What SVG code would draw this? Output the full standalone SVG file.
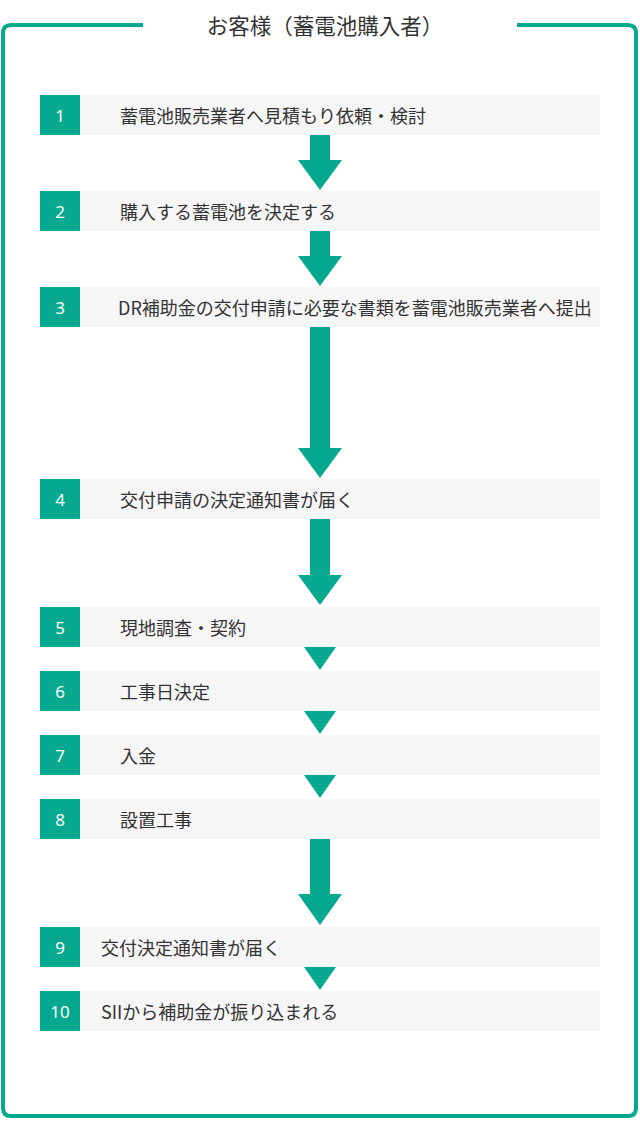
<svg xmlns="http://www.w3.org/2000/svg" width="640" height="1123" viewBox="0 0 640 1123">
<style>
.frame{fill:none;stroke:#06a98f;stroke-width:4;stroke-linecap:butt}
.num{fill:#06a98f}
.bar{fill:#f6f6f6}
.nt{font-family:"Noto Sans","Noto Sans CJK JP",sans-serif;font-size:17px;fill:#ffffff;text-anchor:middle;dominant-baseline:central}
.lb{font-family:"Noto Sans CJK JP","Noto Sans",sans-serif;font-size:18px;fill:#333333;dominant-baseline:central}
.title{font-family:"Noto Sans CJK JP","Noto Sans",sans-serif;font-size:21.5px;fill:#333333;text-anchor:middle;dominant-baseline:central}
.arr{fill:#06a98f}
</style>
<rect width="640" height="1123" fill="#ffffff"/>
<g id="frame">
<path class="frame" d="M143,25 H11 Q3,25 3,33 V1108 Q3,1116 11,1116 H628 Q636,1116 636,1108 V33 Q636,25 628,25 H517"/>
<text class="title" x="325" y="24">お客様（蓄電池購入者）</text>
</g>
<g id="connectors">
<polygon class="arr" points="310,135 330,135 330,160 342,160 320,190 298,160 310,160"/>
<polygon class="arr" points="310,231 330,231 330,256 342,256 320,286 298,256 310,256"/>
<polygon class="arr" points="310,327 330,327 330,448 342,448 320,478 298,448 310,448"/>
<polygon class="arr" points="310,519 330,519 330,575 342,575 320,605 298,575 310,575"/>
<polygon class="arr" points="304,647 336,647 320,670"/>
<polygon class="arr" points="304,711 336,711 320,734"/>
<polygon class="arr" points="304,775 336,775 320,798"/>
<polygon class="arr" points="310,839 330,839 330,894 342,894 320,925 298,894 310,894"/>
<polygon class="arr" points="304,967 336,967 320,990"/>
</g>
<g id="step1"><rect class="bar" x="80" y="95" width="520" height="40"/><rect class="num" x="40" y="95" width="40" height="40"/><text class="nt" x="60" y="115">1</text><text class="lb" x="120" y="115">蓄電池販売業者へ見積もり依頼・検討</text></g>
<g id="step2"><rect class="bar" x="80" y="191" width="520" height="40"/><rect class="num" x="40" y="191" width="40" height="40"/><text class="nt" x="60" y="211">2</text><text class="lb" x="120" y="211">購入する蓄電池を決定する</text></g>
<g id="step3"><rect class="bar" x="80" y="287" width="520" height="40"/><rect class="num" x="40" y="287" width="40" height="40"/><text class="nt" x="60" y="307">3</text><text class="lb" x="118" y="307">DR補助金の交付申請に必要な書類を蓄電池販売業者へ提出</text></g>
<g id="step4"><rect class="bar" x="80" y="479" width="520" height="40"/><rect class="num" x="40" y="479" width="40" height="40"/><text class="nt" x="60" y="499">4</text><text class="lb" x="120" y="499">交付申請の決定通知書が届く</text></g>
<g id="step5"><rect class="bar" x="80" y="607" width="520" height="40"/><rect class="num" x="40" y="607" width="40" height="40"/><text class="nt" x="60" y="627">5</text><text class="lb" x="120" y="627">現地調査・契約</text></g>
<g id="step6"><rect class="bar" x="80" y="671" width="520" height="40"/><rect class="num" x="40" y="671" width="40" height="40"/><text class="nt" x="60" y="691">6</text><text class="lb" x="120" y="691">工事日決定</text></g>
<g id="step7"><rect class="bar" x="80" y="735" width="520" height="40"/><rect class="num" x="40" y="735" width="40" height="40"/><text class="nt" x="60" y="755">7</text><text class="lb" x="120" y="755">入金</text></g>
<g id="step8"><rect class="bar" x="80" y="799" width="520" height="40"/><rect class="num" x="40" y="799" width="40" height="40"/><text class="nt" x="60" y="819">8</text><text class="lb" x="120" y="819">設置工事</text></g>
<g id="step9"><rect class="bar" x="80" y="927" width="520" height="40"/><rect class="num" x="40" y="927" width="40" height="40"/><text class="nt" x="60" y="947">9</text><text class="lb" x="101" y="947">交付決定通知書が届く</text></g>
<g id="step10"><rect class="bar" x="80" y="991" width="520" height="40"/><rect class="num" x="40" y="991" width="40" height="40"/><text class="nt" x="60" y="1011">10</text><text class="lb" x="101" y="1011">SIIから補助金が振り込まれる</text></g>
</svg>
